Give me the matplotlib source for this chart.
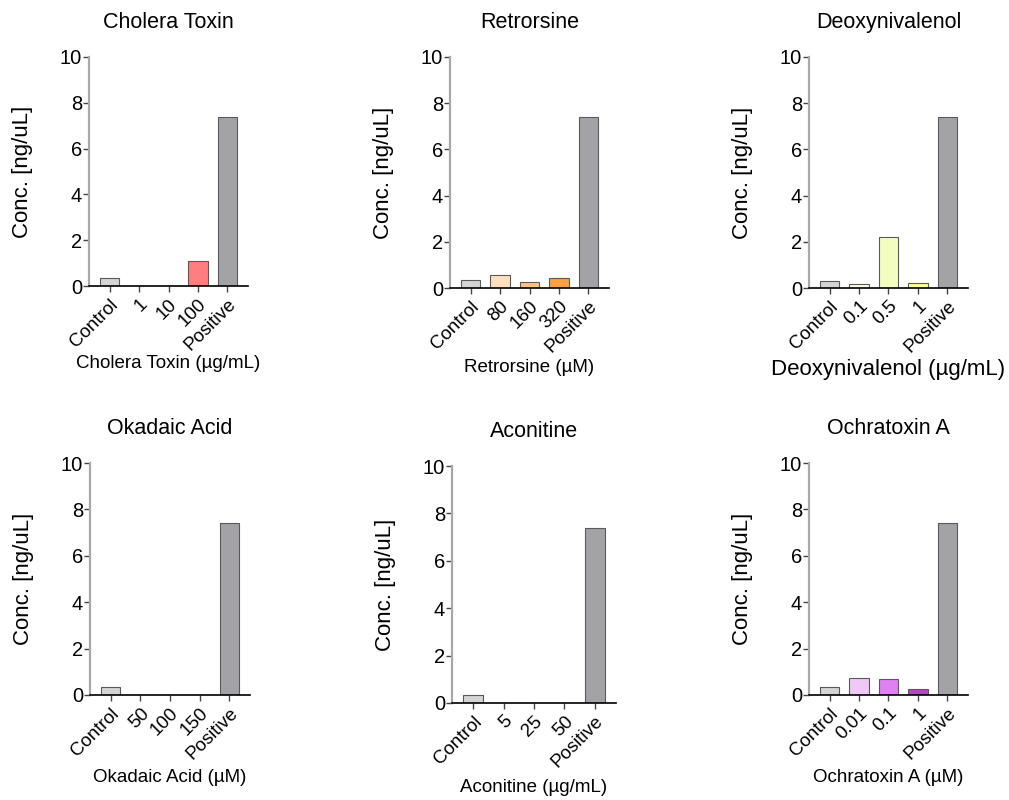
import matplotlib
matplotlib.use("Agg")
import matplotlib.pyplot as plt

plt.rcParams['font.family'] = ['Liberation Sans', 'DejaVu Sans']

# ---- data ----
titles = ["Cholera Toxin", "Retrorsine", "Deoxynivalenol",
          "Okadaic Acid", "Aconitine", "Ochratoxin A"]
xlabels = ["Cholera Toxin (µg/mL)", "Retrorsine (µM)", "Deoxynivalenol (µg/mL)",
           "Okadaic Acid (µM)", "Aconitine (µg/mL)", "Ochratoxin A (µM)"]
cats_cholera = ["Control", "1", "10", "100", "Positive"]
cats_retro = ["Control", "80", "160", "320", "Positive"]
cats_deoxy = ["Control", "0.1", "0.5", "1", "Positive"]
cats_okadaic = ["Control", "50", "100", "150", "Positive"]
cats_aconit = ["Control", "5", "25", "50", "Positive"]
cats_ochra = ["Control", "0.01", "0.1", "1", "Positive"]

vals_cholera = [0.35, 0.0, 0.0, 1.1, 7.4]
vals_retro = [0.35, 0.58, 0.27, 0.45, 7.4]
vals_deoxy = [0.32, 0.18, 2.2, 0.22, 7.4]
vals_okadaic = [0.35, 0.0, 0.0, 0.0, 7.4]
vals_aconit = [0.35, 0.0, 0.0, 0.0, 7.4]
vals_ochra = [0.35, 0.72, 0.68, 0.25, 7.4]

cols_cholera = ["#d4d4d4", "#ffd0d0", "#ffa8a8", "#ff7f7f", "#a2a2a7"]
cols_retro = ["#d4d4d4", "#ffdfbf", "#ffc283", "#ffa040", "#a2a2a7"]
cols_deoxy = ["#d4d4d4", "#fffde0", "#f3fdc0", "#ffff96", "#a2a2a7"]
cols_okadaic = ["#d4d4d4", "#cccccc", "#cccccc", "#cccccc", "#a2a2a7"]
cols_aconit = ["#d4d4d4", "#cccccc", "#cccccc", "#cccccc", "#a2a2a7"]
cols_ochra = ["#d4d4d4", "#f0c8f6", "#e080f2", "#b545c8", "#a2a2a7"]

yticks = [0, 2, 4, 6, 8, 10]

cats_all = [cats_cholera, cats_retro, cats_deoxy, cats_okadaic, cats_aconit, cats_ochra]
vals_all = [vals_cholera, vals_retro, vals_deoxy, vals_okadaic, vals_aconit, vals_ochra]
cols_all = [cols_cholera, cols_retro, cols_deoxy, cols_okadaic, cols_aconit, cols_ochra]

# ---- layout (pixels) ----
W, H = 1009, 800
# (left, right, top, zero) in pixels
boxes = [(89, 248, 57, 286), (450, 609, 57, 288), (809, 968, 57, 288),
         (90, 250, 463, 695), (452, 616, 466, 703), (809, 968, 463, 695)]
xlab_y = [363, 367, 370, 778, 788, 778]
xlab_size = [13.5, 13.5, 16, 13.5, 13.5, 13.5]

fig = plt.figure(figsize=(W / 100, H / 100), dpi=100)

for i in range(6):
    l, r, t, z = boxes[i]
    ax = fig.add_axes([l / W, 1 - z / H, (r - l) / W, (z - t) / H])
    x = list(range(len(cats_all[i])))
    ax.bar(x, vals_all[i], width=0.65, color=cols_all[i],
           edgecolor="#5a5a5a", linewidth=0.8, zorder=2)
    ax.set_xlim(-0.7, 4.7)
    ax.set_ylim(0, 10)
    ax.set_yticks(yticks)
    ax.set_yticklabels([str(v) for v in yticks], fontsize=14.5)
    ax.set_xticks(x)
    ax.set_xticklabels(cats_all[i], rotation=45, ha="right",
                       rotation_mode="anchor", fontsize=13.5)
    for s in ["top", "right"]:
        ax.spines[s].set_visible(False)
    ax.spines["left"].set_color("#a8a8a8")
    ax.spines["left"].set_linewidth(1.6)
    ax.spines["bottom"].set_color("black")
    ax.spines["bottom"].set_linewidth(1.2)
    ax.tick_params(axis="y", length=4, width=1, color="#444444", pad=1)
    ax.tick_params(axis="x", length=4, width=1, color="#444444", pad=3)
    ax.set_title(titles[i], fontsize=15.5, pad=21)
    ax.set_ylabel("Conc. [ng/uL]", fontsize=16)
    ax.yaxis.set_label_coords(-56 / (r - l), 0.5)
    ax.set_xlabel(xlabels[i], fontsize=xlab_size[i], va="center")
    ax.xaxis.set_label_coords(0.5, -(xlab_y[i] - z) / (z - t))

fig.savefig("out.png", dpi=100)
